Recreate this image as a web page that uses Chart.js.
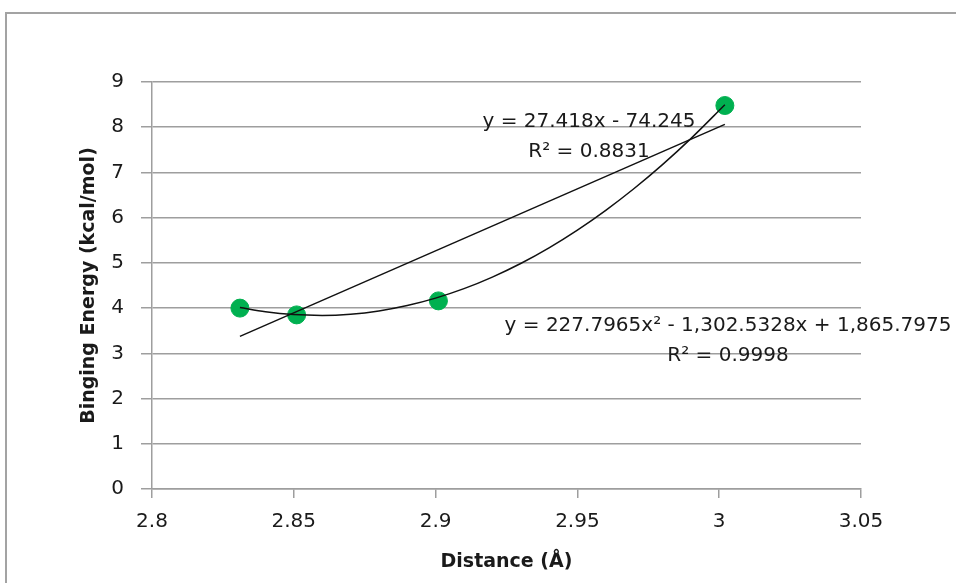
<!DOCTYPE html>
<html>
<head>
<meta charset="utf-8">
<script src="https://cdn.jsdelivr.net/npm/chart.js@4"></script>
<style>
  html, body { margin: 0; padding: 0; background: #fff; }
  #wrap { position: relative; width: 956px; height: 583px; overflow: hidden; }
  #frame { position: absolute; left: 5px; top: 12px; width: 1200px; height: 800px;
           border-top: 2px solid #a3a3a3; border-left: 2px solid #a3a3a3; }
  canvas { position: absolute; left: 0; top: 0; }
</style>
</head>
<body>
<div id="wrap">
  <div id="frame"></div>
  <canvas id="c" width="956" height="583"></canvas>
</div>
<script>
// ---- data ----
const distance = [2.831, 2.851, 2.901, 3.002];
const energy   = [4.0, 3.85, 4.16, 8.48];

// linear trendline end points (y = 27.418x - 74.245)
const linX = [2.831, 3.002];
const linY = [3.375, 8.064];

// polynomial trendline, points
const polyX = [2.831, 2.84, 2.85, 2.86, 2.87, 2.88, 2.89, 2.90, 2.91, 2.92, 2.93, 2.94, 2.95, 2.96, 2.97, 2.98, 2.99, 3.002];
const polyY = [4.016, 3.920, 3.856, 3.838, 3.865, 3.938, 4.057, 4.221, 4.430, 4.686, 4.986, 5.333, 5.725, 6.162, 6.645, 7.173, 7.748, 8.497];

const xTickLabels = ['2.8', '2.85', '2.9', '2.95', '3', '3.05'];
const yTickLabels = ['0', '1', '2', '3', '4', '5', '6', '7', '8', '9'];

const linEq  = 'y = 27.418x - 74.245';
const linR2  = 'R² = 0.8831';
const polyEq = 'y = 227.7965x² - 1,302.5328x + 1,865.7975';
const polyR2 = 'R² = 0.9998';

const toXY = (xs, ys) => xs.map((x, i) => ({ x: x, y: ys[i] }));

const FONT = 'DejaVu Sans';
const GRID = '#9e9e9e';

const labelsPlugin = {
  id: 'trendLabels',
  afterDatasetsDraw(chart) {
    const ctx = chart.ctx;
    ctx.save();
    ctx.font = '20px "' + FONT + '"';
    ctx.fillStyle = '#1a1a1a';
    ctx.textAlign = 'center';
    ctx.textBaseline = 'middle';
    ctx.fillText(linEq, 589, 122);
    ctx.fillText(linR2, 589, 152);
    ctx.fillText(polyEq, 728, 326);
    ctx.fillText(polyR2, 728, 356);
    ctx.restore();
  }
};

new Chart(document.getElementById('c'), {
  type: 'scatter',
  data: {
    datasets: [
      {
        label: 'Binding energy',
        data: toXY(distance, energy),
        backgroundColor: '#00b050',
        borderColor: '#00b050',
        pointRadius: 9,
        pointHoverRadius: 9,
        order: 3
      },
      {
        label: 'Linear',
        type: 'line',
        data: toXY(linX, linY),
        borderColor: '#111',
        borderWidth: 1.5,
        pointRadius: 0,
        fill: false,
        order: 1
      },
      {
        label: 'Poly',
        type: 'line',
        data: toXY(polyX, polyY),
        borderColor: '#111',
        borderWidth: 1.5,
        pointRadius: 0,
        fill: false,
        cubicInterpolationMode: 'monotone',
        order: 2
      }
    ]
  },
  options: {
    responsive: false,
    animation: false,
    devicePixelRatio: 1,
    layout: { padding: { left: 0, top: 82, right: 95, bottom: 0 } },
    plugins: {
      legend: { display: false },
      tooltip: { enabled: false }
    },
    scales: {
      x: {
        type: 'linear',
        min: 2.8,
        max: 3.05,
        afterFit: (s) => { s.height = 94; },
        ticks: {
          stepSize: 0.05,
          padding: 12,
          color: '#1a1a1a',
          font: { family: FONT, size: 20 },
          callback: (v) => xTickLabels[Math.round((v - 2.8) / 0.05)]
        },
        grid: { drawOnChartArea: false, drawTicks: true, tickLength: 9, color: GRID, lineWidth: 1.5 },
        border: { color: GRID, width: 1.5 },
        title: {
          display: true,
          text: 'Distance (Å)',
          color: '#1a1a1a',
          font: { family: FONT, size: 19, weight: 'bold' },
          padding: { top: 0, bottom: 10 }
        }
      },
      y: {
        min: 0,
        max: 9,
        afterFit: (s) => { s.width = 152; },
        ticks: {
          stepSize: 1,
          padding: 17,
          color: '#1a1a1a',
          font: { family: FONT, size: 20 },
          callback: (v) => yTickLabels[Math.round(v)]
        },
        grid: { drawTicks: true, tickLength: 11, color: GRID, lineWidth: 1.5 },
        border: { color: GRID, width: 1.5 },
        title: {
          display: true,
          text: 'Binging Energy (kcal/mol)',
          color: '#1a1a1a',
          font: { family: FONT, size: 19, weight: 'bold' },
          padding: { top: 78, bottom: 0 }
        }
      }
    }
  },
  plugins: [labelsPlugin]
});
</script>
</body>
</html>
